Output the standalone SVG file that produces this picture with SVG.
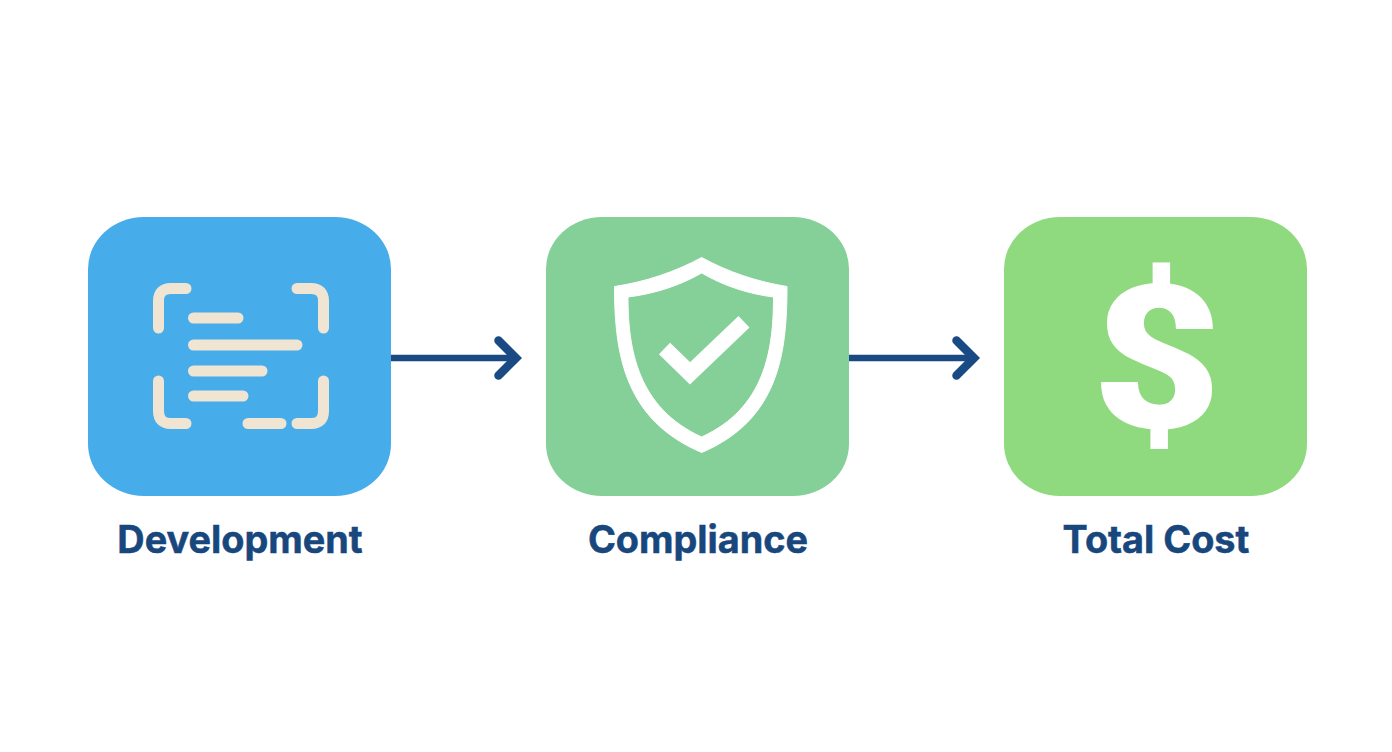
<svg xmlns="http://www.w3.org/2000/svg" width="1392" height="752" viewBox="0 0 1392 752">
<style>
.card{stroke:none}
.label{font-family:"Inter","Liberation Sans",sans-serif;font-weight:700;font-size:37.800px;fill:#17477d;stroke:#17477d;stroke-width:0.500;text-anchor:middle}
.cream{fill:none;stroke:#f0e4d2;stroke-width:11;stroke-linecap:round;stroke-linejoin:round}
.conn{fill:none;stroke:#1a4a83;stroke-width:6.500}
.head{fill:none;stroke:#1a4a83;stroke-width:8.500;stroke-linecap:round;stroke-linejoin:miter}
</style>
<defs>
<marker id="arrow" markerUnits="userSpaceOnUse" markerWidth="40" markerHeight="60" refX="30" refY="30" orient="auto">
<path class="head" d="M12.500 12.500 L30 30 L12.500 47.500"/>
</marker>
</defs>
<rect width="1392" height="752" fill="#ffffff"/>
<g id="connectors">
<line class="conn" x1="391" y1="358" x2="516" y2="358" marker-end="url(#arrow)"/>
<line class="conn" x1="849" y1="358" x2="974" y2="358" marker-end="url(#arrow)"/>
</g>
<g id="node-development">
<rect class="card" x="88" y="217" width="303" height="279" rx="56" ry="52" fill="#46adea"/>
<path class="cream" d="M158.500 328V301Q158.500 288.500 171 288.500H186M297 288.500H311Q323.500 288.500 323.500 301V328M158.500 381V411Q158.500 423.500 171 423.500H186M297 423.500H311Q323.500 423.500 323.500 411V381"/>
<path class="cream" d="M193.500 318H238M193.500 345H297M193.500 371H262M193.500 396H243M248 423.500H281"/>
<text class="label" x="240" y="553">Development</text>
</g>
<g id="node-compliance">
<rect class="card" x="546" y="217" width="303" height="279" rx="56" ry="52" fill="#85d098"/>
<path fill="#ffffff" fill-rule="evenodd" stroke="#ffffff" stroke-width="1" stroke-linejoin="round" d="M701.700 257.500C675 272 645 282 614.500 286.500C614.500 355 625 420 701.700 452.500C778 420 787 355 787 286.500C758 282 728 272 701.700 257.500ZM701.700 273C726 287 750 294 773.500 297C773.500 350 765 408 701.700 437C638 408 628 350 628 297C652 294 677 287 701.700 273Z"/>
<path d="M664.500 348.500L690 373.300L744 321.700" fill="none" stroke="#ffffff" stroke-width="16" stroke-linejoin="miter" stroke-linecap="butt"/>
<text class="label" x="698" y="553">Compliance</text>
</g>
<g id="node-total-cost">
<rect class="card" x="1004" y="217" width="303" height="279" rx="56" ry="52" fill="#8fda7e"/>
<text transform="translate(1157 428) scale(1.12 1)" x="0" y="0" font-family="Roboto,'Liberation Sans',sans-serif" font-weight="900" font-size="200" fill="#ffffff" text-anchor="middle">$</text>
<text class="label" x="1156" y="553">Total Cost</text>
</g>
</svg>
